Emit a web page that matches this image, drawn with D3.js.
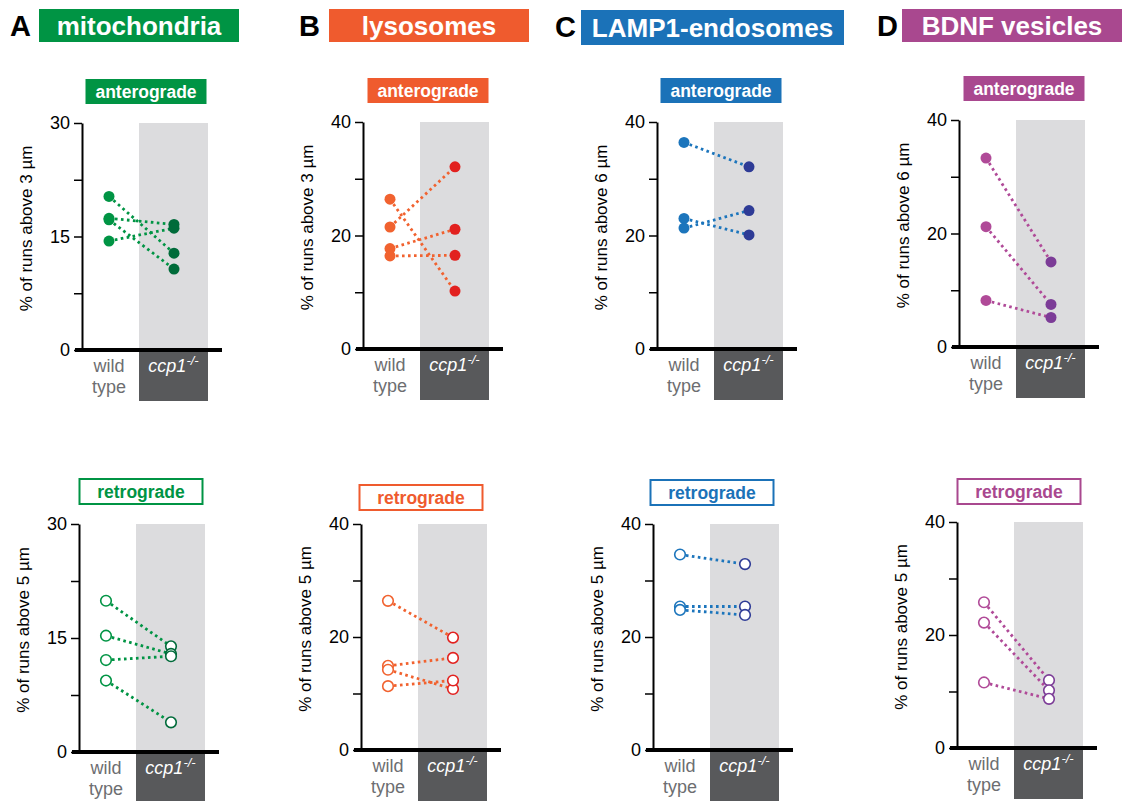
<!DOCTYPE html>
<html>
<head>
<meta charset="utf-8">
<script src="https://cdn.jsdelivr.net/npm/d3@7"></script>
<style>
  body { margin: 0; background: #fff; }
  text { font-family: "Liberation Sans", Arial, sans-serif; }
</style>
</head>
<body>
<svg id="chart" width="1130" height="801"></svg>
<script>
// categories
const groups = ["wild type", "ccp1"];
const letters = ["A", "B", "C", "D"];
const organelles = ["mitochondria", "lysosomes", "LAMP1-endosomes", "BDNF vesicles"];
const directions = ["anterograde", "retrograde"];
const yMax = [30, 40, 40, 40];
const yLabels = [[0, 15, 30], [0, 20, 40], [0, 20, 40], [0, 20, 40]];
const runAntero = [3, 3, 6, 6];   // µm threshold
const runRetro = [5, 5, 5, 5];

// pairs [wild type, ccp1-/-], % of runs
const mitoAntero = [[20.3, 12.8], [17.4, 16.6], [17.2, 10.7], [14.4, 16.1]];
const mitoRetro  = [[19.9, 13.9], [15.3, 12.9], [12.1, 12.6], [9.4, 3.9]];
const lysoAntero = [[26.4, 10.2], [21.5, 32.1], [17.7, 21.1], [16.4, 16.5]];
const lysoRetro  = [[26.4, 19.9], [14.9, 16.3], [14.2, 10.8], [11.3, 12.3]];
const lampAntero = [[36.4, 32.1], [23.0, 20.1], [21.3, 24.4]];
const lampRetro  = [[34.6, 32.9], [25.4, 25.4], [24.8, 23.9]];
const bdnfAntero = [[33.3, 15.0], [21.2, 7.5], [8.2, 5.2]];
const bdnfRetro  = [[25.8, 12.0], [22.2, 10.2], [11.6, 8.7]];

const antero = [mitoAntero, lysoAntero, lampAntero, bdnfAntero];
const retro = [mitoRetro, lysoRetro, lampRetro, bdnfRetro];

// colours: header / wild type / ccp1
const headColor = ["#009444", "#ef5b2e", "#1b72b8", "#a9488f"];
const wtColor = ["#009444", "#f1622f", "#1c75bc", "#b04a98"];
const koColor = ["#006b3a", "#e2211f", "#2e3b96", "#7c3c97"];

// layout
const header = [
  { lx: 10, bx: 39, bw: 200, by: 9, bh: 33 },
  { lx: 299, bx: 329, bw: 200, by: 9, bh: 33 },
  { lx: 555, bx: 581, bw: 263, by: 10, bh: 35 },
  { lx: 877, bx: 902, bw: 220, by: 9, bh: 33 }
];
const topRow = [
  { ax: 82, top: 123, base: 350, sx: 146, sy: 79 },
  { ax: 363, top: 122, base: 349, sx: 428, sy: 78 },
  { ax: 657, top: 122, base: 349, sx: 721, sy: 78 },
  { ax: 959, top: 120, base: 347, sx: 1024, sy: 76 }
];
const botRow = [
  { ax: 79, top: 524, base: 752, sx: 141, sy: 479 },
  { ax: 361, top: 524, base: 750, sx: 421, sy: 485 },
  { ax: 653, top: 524, base: 750, sx: 712, sy: 480 },
  { ax: 957, top: 522, base: 748, sx: 1019, sy: 479 }
];

const svg = d3.select("#chart");

header.forEach((h, i) => {
  svg.append("text").attr("x", h.lx).attr("y", h.by + 27)
    .attr("font-size", 29).attr("font-weight", "bold").attr("fill", "#000")
    .text(letters[i]);
  svg.append("rect").attr("x", h.bx).attr("y", h.by)
    .attr("width", h.bw).attr("height", h.bh).attr("fill", headColor[i]);
  svg.append("text").attr("x", h.bx + h.bw / 2).attr("y", h.by + h.bh / 2 + 9)
    .attr("text-anchor", "middle").attr("font-size", 26).attr("font-weight", "bold")
    .attr("fill", "#fff").text(organelles[i]);
});

function drawPanel(i, L, data, dir, thr) {
  const g = svg.append("g");
  const y = d3.scaleLinear().domain([0, yMax[i]]).range([L.base, L.top]);
  const x = d3.scalePoint().domain(groups).range([L.ax + 27, L.ax + 92]);
  const bx0 = L.ax + 57, bw = 69;

  // bands
  g.append("rect").attr("x", bx0).attr("y", L.top).attr("width", bw)
    .attr("height", L.base - L.top).attr("fill", "#dcdcde");
  g.append("rect").attr("x", bx0).attr("y", L.base).attr("width", bw)
    .attr("height", 51).attr("fill", "#58595b");

  // subheader
  const filled = dir === "anterograde";
  const sw = filled ? 121 : 123;
  g.append("rect").attr("x", L.sx - sw / 2).attr("y", L.sy)
    .attr("width", sw).attr("height", 25)
    .attr("fill", filled ? headColor[i] : "#fff")
    .attr("stroke", filled ? "none" : headColor[i]).attr("stroke-width", 2);
  g.append("text").attr("x", L.sx).attr("y", L.sy + 19)
    .attr("text-anchor", "middle").attr("font-size", 17.5).attr("font-weight", "bold")
    .attr("fill", filled ? "#fff" : headColor[i]).text(dir);

  // y axis
  const major = yLabels[i];
  const ticks = [0, yMax[i] / 4, yMax[i] / 2, yMax[i] * 3 / 4, yMax[i]];
  const ax = g.append("g").attr("transform", `translate(${L.ax},0)`)
    .call(d3.axisLeft(y).tickValues(ticks).tickSize(8).tickSizeOuter(0)
      .tickFormat(d => major.includes(d) ? d : ""));
  ax.select(".domain").attr("stroke", "#000").attr("stroke-width", 2);
  ax.selectAll(".tick line").attr("stroke", "#000").attr("stroke-width", 1.5);
  ax.selectAll(".tick text").attr("font-size", 18).attr("fill", "#000")
    .attr("font-family", "Liberation Sans, Arial, sans-serif").attr("dx", "-1");

  // baseline
  g.append("line").attr("x1", L.ax - 7).attr("x2", bx0 + bw + 14)
    .attr("y1", L.base).attr("y2", L.base).attr("stroke", "#000").attr("stroke-width", 4);

  // y label
  g.append("text")
    .attr("transform", `translate(${L.ax - 50},${(L.top + L.base) / 2 - 8}) rotate(-90)`)
    .attr("text-anchor", "middle").attr("font-size", 17).attr("fill", "#000")
    .text(`% of runs above ${thr} µm`);

  // x labels
  const wt = g.append("text").attr("text-anchor", "middle").attr("font-size", 18)
    .attr("fill", "#6d6e71");
  wt.append("tspan").attr("x", x(groups[0])).attr("y", L.base + 22).text("wild");
  wt.append("tspan").attr("x", x(groups[0])).attr("y", L.base + 43).text("type");
  const ko = g.append("text").attr("x", bx0 + bw / 2).attr("y", L.base + 22)
    .attr("text-anchor", "middle").attr("font-size", 18).attr("font-style", "italic")
    .attr("fill", "#fff");
  ko.append("tspan").text(groups[1]);
  ko.append("tspan").attr("font-size", 13).attr("dy", -7).text("-/-");

  // lines
  g.selectAll(".pair").data(data).join("line")
    .attr("x1", x(groups[0])).attr("x2", x(groups[1]))
    .attr("y1", d => y(d[0])).attr("y2", d => y(d[1]))
    .attr("stroke", wtColor[i]).attr("stroke-width", 2.8)
    .attr("stroke-dasharray", "2.6,3.4");

  // points
  const pts = [];
  data.forEach(d => {
    pts.push({ g: groups[1], v: d[1], c: koColor[i] });
  });
  data.forEach(d => {
    pts.push({ g: groups[0], v: d[0], c: wtColor[i] });
  });
  g.selectAll(".pt").data(pts).join("circle")
    .attr("cx", d => x(d.g)).attr("cy", d => y(d.v))
    .attr("r", filled ? 5.5 : 5.3)
    .attr("fill", d => filled ? d.c : "#fff")
    .attr("stroke", d => d.c).attr("stroke-width", filled ? 0 : 1.6);
}

for (let i = 0; i < 4; i++) {
  drawPanel(i, topRow[i], antero[i], directions[0], runAntero[i]);
  drawPanel(i, botRow[i], retro[i], directions[1], runRetro[i]);
}
</script>
</body>
</html>
